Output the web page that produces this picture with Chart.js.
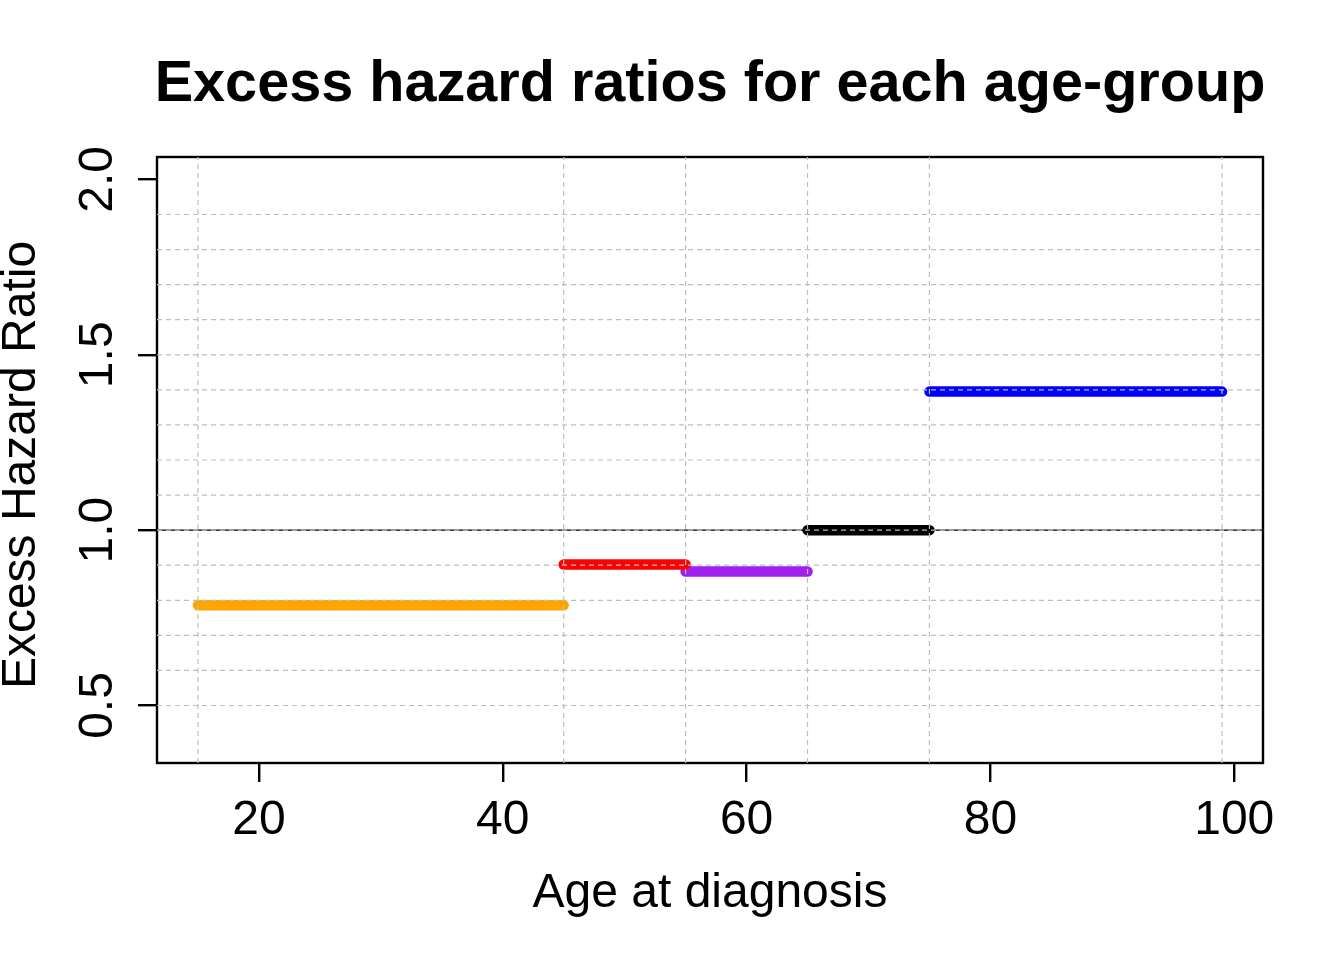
<!DOCTYPE html>
<html>
<head>
<meta charset="utf-8">
<script src="https://cdn.jsdelivr.net/npm/chart.js@4.4.1/dist/chart.umd.min.js"></script>
<style>
    html, body { margin: 0; padding: 0; background: #ffffff; }
    #wrap { width: 1344px; height: 960px; }
</style>
</head>
<body>
<div id="wrap"><canvas id="ehrChart" width="1344" height="960"></canvas></div>
<script>
const ageStart = [15, 45, 55, 65, 75];
const ageEnd = [45, 55, 65, 75, 99];
const excessHR = [0.786, 0.902, 0.882, 1.0, 1.395];
const groupColors = ["#FFA500", "#FF0000", "#A020F0", "#000000", "#0000FF"];

const xTicks = [20, 40, 60, 80, 100];
const yTicks = [0.5, 1.0, 1.5, 2.0];
const yTickLabels = ["0.5", "1.0", "1.5", "2.0"];
const gridX = [15, 45, 55, 65, 75, 99];
const gridY = [0.5, 0.6, 0.7, 0.8, 0.9, 1.0, 1.1, 1.2, 1.3, 1.4, 1.5, 1.6, 1.7, 1.8, 1.9];
const xLimits = [11.64, 102.36];
const yLimits = [0.336, 2.064];
const refLine = 1.0;

const FONT = "'Liberation Sans', Arial, sans-serif";

const datasets = [];

// dashed grid sits on top of the segments, like the original
gridX.forEach((x) => {
    datasets.push({
        data: [{ x: x, y: yLimits[0] }, { x: x, y: yLimits[1] }],
        borderColor: "#BEBEBE",
        borderWidth: 1.2,
        borderDash: [5, 4],
        order: 0
    });
});
gridY.forEach((y) => {
    datasets.push({
        data: [{ x: xLimits[0], y: y }, { x: xLimits[1], y: y }],
        borderColor: "#BEBEBE",
        borderWidth: 1.2,
        borderDash: [5, 4],
        order: 0
    });
});

datasets.push({
    data: [{ x: xLimits[0], y: refLine }, { x: xLimits[1], y: refLine }],
    borderColor: "#000000",
    borderWidth: 1.3,
    order: 2
});

ageStart.forEach((start, i) => {
    datasets.push({
        data: [{ x: start, y: excessHR[i] }, { x: ageEnd[i], y: excessHR[i] }],
        borderColor: groupColors[i],
        borderWidth: 10.5,
        borderCapStyle: "round",
        order: 1
    });
});

const rText = {
    id: "rText",
    beforeDatasetsDraw(chart) {
        const { ctx, chartArea: a } = chart;
        ctx.save();
        ctx.strokeStyle = "#000000";
        ctx.lineWidth = 2.4;
        ctx.strokeRect(a.left, a.top, a.right - a.left, a.bottom - a.top);
        ctx.restore();
    },
    afterDraw(chart) {
        const { ctx, chartArea: a, scales } = chart;
        const cx = (a.left + a.right) / 2;
        const cy = (a.top + a.bottom) / 2;
        ctx.save();
        ctx.fillStyle = "#000000";

        ctx.font = "bold 57.6px " + FONT;
        ctx.textAlign = "center";
        ctx.textBaseline = "alphabetic";
        ctx.fillText("Excess hazard ratios for each age-group", cx, 101);

        ctx.font = "48px " + FONT;
        xTicks.forEach((t) => {
            ctx.fillText(String(t), scales.x.getPixelForValue(t), 834);
        });
        ctx.fillText("Age at diagnosis", cx, 907);

        yTicks.forEach((t, i) => {
            ctx.save();
            ctx.translate(112, scales.y.getPixelForValue(t));
            ctx.rotate(-Math.PI / 2);
            ctx.fillText(yTickLabels[i], 0, 0);
            ctx.restore();
        });

        ctx.save();
        ctx.translate(35, cy + 5);
        ctx.rotate(-Math.PI / 2);
        ctx.fillText("Excess Hazard Ratio", 0, 0);
        ctx.restore();

        ctx.restore();
    }
};

new Chart(document.getElementById("ehrChart"), {
    type: "scatter",
    data: { datasets },
    options: {
        responsive: false,
        devicePixelRatio: 1,
        animation: false,
        showLine: true,
        elements: { point: { radius: 0, hoverRadius: 0 } },
        layout: { padding: { left: 138, right: 81, top: 157, bottom: 178 } },
        plugins: { legend: { display: false }, tooltip: { enabled: false } },
        events: [],
        scales: {
            x: {
                type: "linear",
                min: xLimits[0],
                max: xLimits[1],
                afterBuildTicks: (scale) => { scale.ticks = xTicks.map((v) => ({ value: v })); },
                ticks: { display: false },
                grid: { drawOnChartArea: false, drawTicks: true, tickLength: 19, color: "#000000", lineWidth: 2.4 },
                border: { display: false }
            },
            y: {
                type: "linear",
                min: yLimits[0],
                max: yLimits[1],
                afterBuildTicks: (scale) => { scale.ticks = yTicks.map((v) => ({ value: v })); },
                ticks: { display: false },
                grid: { drawOnChartArea: false, drawTicks: true, tickLength: 19, color: "#000000", lineWidth: 2.4 },
                border: { display: false }
            }
        }
    },
    plugins: [rText]
});
</script>
</body>
</html>
